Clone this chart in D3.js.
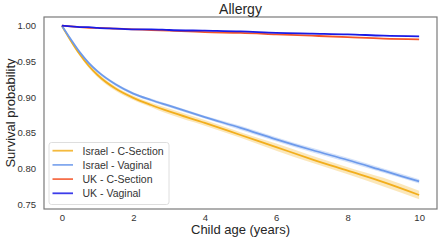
<!DOCTYPE html>
<html>
<head>
<meta charset="utf-8">
<script src="https://cdn.jsdelivr.net/npm/d3@7"></script>
<style>
  body { margin: 0; background: #fff; }
  svg text { font-family: "Liberation Sans", Arial, sans-serif; }
</style>
</head>
<body>
<div id="chart"></div>
<script>
// Data
const ages = [0, 0.25, 0.5, 0.75, 1, 1.5, 2, 2.5, 3, 4, 5, 6, 7, 8, 9, 10];
const israelCSection = [1.0, 0.979, 0.960, 0.944, 0.931, 0.912, 0.899, 0.889, 0.880, 0.864, 0.847, 0.830, 0.813, 0.797, 0.781, 0.763];
const israelCSectionCI = [0, 0.002, 0.002, 0.003, 0.003, 0.003, 0.003, 0.003, 0.004, 0.004, 0.004, 0.005, 0.005, 0.005, 0.006, 0.006];
const israelVaginal = [1.0, 0.981, 0.963, 0.948, 0.936, 0.918, 0.905, 0.896, 0.888, 0.872, 0.857, 0.841, 0.826, 0.812, 0.797, 0.782];
const israelVaginalCI = [0, 0.001, 0.001, 0.002, 0.002, 0.002, 0.002, 0.002, 0.002, 0.002, 0.003, 0.003, 0.003, 0.003, 0.003, 0.003];
const ukCSection = [1.0, 0.999, 0.998, 0.997, 0.997, 0.996, 0.995, 0.994, 0.993, 0.991, 0.990, 0.988, 0.986, 0.984, 0.982, 0.981];
const ukVaginal = [1.0, 0.999, 0.998, 0.998, 0.997, 0.996, 0.995, 0.995, 0.994, 0.993, 0.992, 0.990, 0.989, 0.988, 0.986, 0.985];
const xTicks = [0, 2, 4, 6, 8, 10];
const yTicks = [0.75, 0.80, 0.85, 0.90, 0.95, 1.00];

const series = [
  { name: "Israel - C-Section", values: israelCSection, ci: israelCSectionCI, color: "#f2ae1c" },
  { name: "Israel - Vaginal", values: israelVaginal, ci: israelVaginalCI, color: "#6d9aeb" },
  { name: "UK - C-Section", values: ukCSection, ci: null, color: "#f5562a" },
  { name: "UK - Vaginal", values: ukVaginal, ci: null, color: "#1a1ae6" }
];

// Step 1: set up chart
const svgWidth = 440, svgHeight = 242;
const margin = { top: 17, right: 3, bottom: 33, left: 44 };
const width = svgWidth - margin.left - margin.right;
const height = svgHeight - margin.top - margin.bottom;

const svg = d3.select("#chart").append("svg")
  .attr("width", svgWidth)
  .attr("height", svgHeight);

const chartGroup = svg.append("g")
  .attr("transform", `translate(${margin.left}, ${margin.top})`);

// Step 2: scales
const x = d3.scaleLinear().domain([-0.5, 10.5]).range([0, width]);
const y = d3.scaleLinear().domain([0.7434, 1.0122]).range([height, 0]);

// Step 3: axes (no tick marks, seaborn white style)
const xAxis = chartGroup.append("g")
  .attr("transform", `translate(0, ${height})`)
  .call(d3.axisBottom(x).tickValues(xTicks).tickSize(0).tickPadding(5).tickFormat(d3.format("d")));
const yAxis = chartGroup.append("g")
  .call(d3.axisLeft(y).tickValues(yTicks).tickSize(0).tickPadding(8).tickFormat(d3.format(".2f")));
[xAxis, yAxis].forEach(a => {
  a.select(".domain").remove();
  a.selectAll("text").attr("fill", "#333").style("font-size", "9.5px");
});

// Step 4: bands and lines
const area = d3.area()
  .x((d, i) => x(ages[i]))
  .y0((d, i) => y(d.v - d.c))
  .y1((d, i) => y(d.v + d.c))
  .curve(d3.curveMonotoneX);
const line = d3.line()
  .x((d, i) => x(ages[i]))
  .y(d => y(d))
  .curve(d3.curveMonotoneX);

series.forEach(s => {
  if (s.ci) {
    chartGroup.append("path")
      .attr("d", area(s.values.map((v, i) => ({ v: v, c: s.ci[i] }))))
      .attr("fill", s.color)
      .attr("opacity", 0.3);
  }
});
series.forEach(s => {
  chartGroup.append("path")
    .attr("d", line(s.values))
    .attr("fill", "none")
    .attr("stroke", s.color)
    .attr("stroke-width", 1.8);
});

// frame
chartGroup.append("rect")
  .attr("width", width).attr("height", height)
  .attr("fill", "none").attr("stroke", "#7a7a7a").attr("stroke-width", 1.2);

// Step 5: legend
const legend = chartGroup.append("g").attr("transform", "translate(5, 125.5)");
legend.append("rect")
  .attr("width", 120).attr("height", 62).attr("rx", 2.5)
  .attr("fill", "#fff").attr("fill-opacity", 0.8)
  .attr("stroke", "#d6d6d6").attr("stroke-width", 0.8);
series.forEach((s, i) => {
  const g = legend.append("g").attr("transform", `translate(0, ${8.2 + i * 14.2})`);
  g.append("line").attr("x1", 3.5).attr("x2", 24).attr("y1", 0).attr("y2", 0)
    .attr("stroke", s.color).attr("stroke-width", 1.8).attr("stroke-opacity", 0.85);
  g.append("text").attr("x", 33.5).attr("y", 3.8)
    .style("font-size", "10.5px").attr("fill", "#333").text(s.name);
});

// Step 6: titles
svg.append("text")
  .attr("x", margin.left + width / 2).attr("y", 14)
  .attr("text-anchor", "middle").style("font-size", "14px").attr("fill", "#262626")
  .text("Allergy");
svg.append("text")
  .attr("x", margin.left + width / 2).attr("y", 234)
  .attr("text-anchor", "middle").style("font-size", "13px").attr("fill", "#262626")
  .text("Child age (years)");
svg.append("text")
  .attr("transform", `translate(15, ${margin.top + height / 2}) rotate(-90)`)
  .attr("text-anchor", "middle").style("font-size", "13px").attr("fill", "#262626")
  .text("Survival probability");
</script>
</body>
</html>
